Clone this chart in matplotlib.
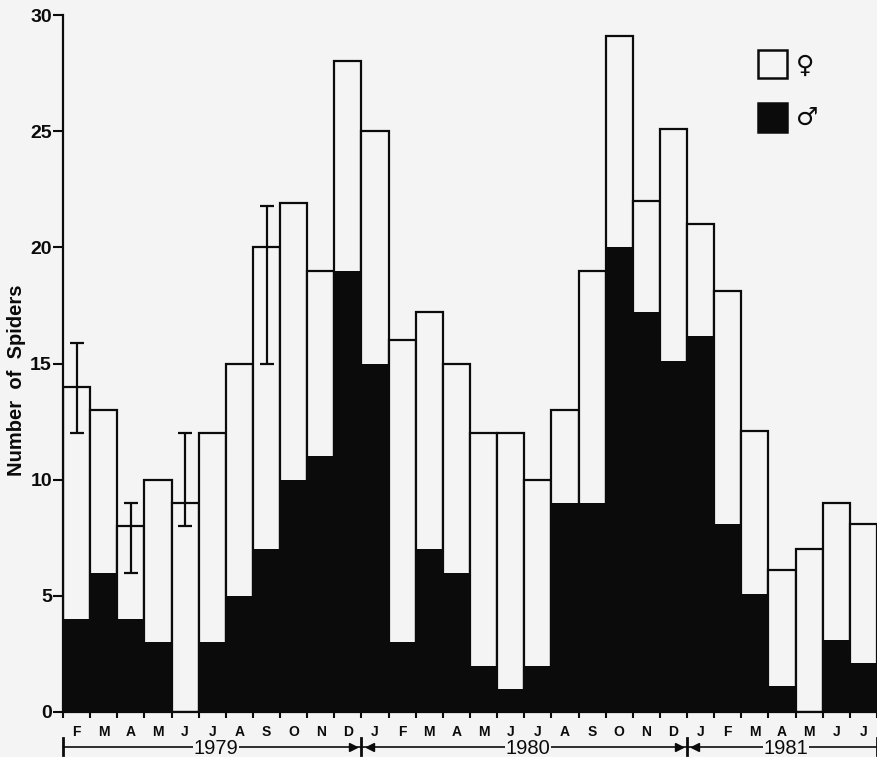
import numpy as np
import matplotlib
matplotlib.use('Agg')
import matplotlib.pyplot as plt
from matplotlib.transforms import blended_transform_factory
from matplotlib.patches import Rectangle

months = ['F', 'M', 'A', 'M', 'J', 'J', 'A', 'S', 'O', 'N', 'D',
          'J', 'F', 'M', 'A', 'M', 'J', 'J', 'A', 'S', 'O', 'N', 'D',
          'J', 'F', 'M', 'A', 'M', 'J', 'J']
years = ['1979', '1980', '1981']
months_per_year = [11, 12, 7]
total = [14, 13, 8, 10, 9, 12, 15, 20, 21.9, 19, 28,
         25, 16, 17.2, 15, 12, 12, 10, 13, 19, 29.1, 22, 25.1,
         21, 18.1, 12.1, 6.1, 7, 9, 8.1]
male = [4, 6, 4, 3, 0, 3, 5, 7, 10, 11, 19,
        15, 3, 7, 6, 2, 1, 2, 9, 9, 20, 17.2, 15.1,
        16.2, 8.1, 5.1, 1.1, 0, 3.1, 2.1]
err_idx = [0, 2, 4, 7]
err_low = [12, 6, 8, 15]
err_high = [15.9, 9, 12, 21.8]

bg = '#f4f4f4'
ink = '#0b0b0b'
FONT = 'Liberation Sans'

fig = plt.figure(figsize=(8.78, 7.57), dpi=100, facecolor=bg)
ax = fig.add_axes([63/878, 1-712/757, (877-63)/878, (712-15)/757])
ax.set_facecolor(bg)

x = np.arange(len(total))
tot = np.array(total)
mal = np.array(male)

ax.bar(x, tot, width=1.0, color=bg, edgecolor=ink, linewidth=1.6, zorder=2)
ax.bar(x, mal, width=1.0, color=ink, linewidth=0, zorder=3)

ei = np.array(err_idx)
ax.errorbar(x[ei], tot[ei],
            yerr=[tot[ei] - np.array(err_low), np.array(err_high) - tot[ei]],
            fmt='none', ecolor=ink, elinewidth=1.6, capsize=5, capthick=1.6, zorder=4)

ax.set_xlim(-0.5, len(total) - 0.5)
ax.set_ylim(0, 30)
ax.set_yticks(np.arange(0, 31, 5))
ax.set_yticklabels([str(v) for v in range(0, 31, 5)], fontsize=14, fontweight='bold',
                   family=FONT, color=ink)
ax.set_xticks(x)
ax.set_xticklabels(months, fontsize=10, fontweight='bold', family=FONT, color=ink)
ax.set_xticks(np.arange(len(total) + 1) - 0.5, minor=True)
ax.tick_params(axis='x', which='major', length=0, pad=9)
ax.tick_params(axis='x', which='minor', length=4, width=1.5, direction='out', color=ink)
ax.tick_params(axis='y', length=7, width=1.5, direction='out', color=ink, pad=1)

for s in ['top', 'right']:
    ax.spines[s].set_visible(False)
for s in ['left', 'bottom']:
    ax.spines[s].set_linewidth(1.6)
    ax.spines[s].set_color(ink)
    ax.spines[s].set_zorder(5)

# Year brackets
trans = blended_transform_factory(ax.transData, ax.transAxes)
bounds = np.concatenate([[0], np.cumsum(months_per_year)]) - 0.5
yl = -0.0495
ax.plot([bounds[0], bounds[-1]], [yl, yl], color=ink, lw=1.2, transform=trans, clip_on=False)
for b in bounds:
    ax.plot([b, b], [-0.038, -0.061], color=ink, lw=2.0, transform=trans, clip_on=False)
for b in bounds[1:-1]:
    ax.plot([b - 0.3], [yl], marker='>', ms=6, color=ink, transform=trans, clip_on=False)
    ax.plot([b + 0.3], [yl], marker='<', ms=6, color=ink, transform=trans, clip_on=False)
for i, yr in enumerate(years):
    mid = (bounds[i] + bounds[i+1]) / 2 + 0.15
    ax.text(mid, yl - 0.003, yr, transform=trans, ha='center', va='center',
            fontsize=14.5, family=FONT, color=ink,
            bbox=dict(facecolor=bg, edgecolor='none', pad=0.5), zorder=6, clip_on=False)

# y label
fig.text(17/878, 1-380/757, 'Number  of  Spiders', rotation=90, ha='center', va='center',
         fontsize=14.5, fontweight='bold', family=FONT, color=ink)

# legend
fig.patches.append(Rectangle((758/878, 1-78/757), 29/878, 28/757, transform=fig.transFigure,
                             facecolor=bg, edgecolor=ink, lw=1.8))
fig.patches.append(Rectangle((758/878, 1-132/757), 29/878, 29/757, transform=fig.transFigure,
                             facecolor=ink, edgecolor=ink, lw=1.8))
fig.text(796/878, 1-66/757, '\u2640', ha='left', va='center', fontsize=18,
         fontweight='bold', family='DejaVu Sans', color=ink)
fig.text(796/878, 1-118/757, '\u2642', ha='left', va='center', fontsize=18,
         fontweight='bold', family='DejaVu Sans', color=ink)

fig.savefig('out.png', dpi=100, facecolor=bg)
